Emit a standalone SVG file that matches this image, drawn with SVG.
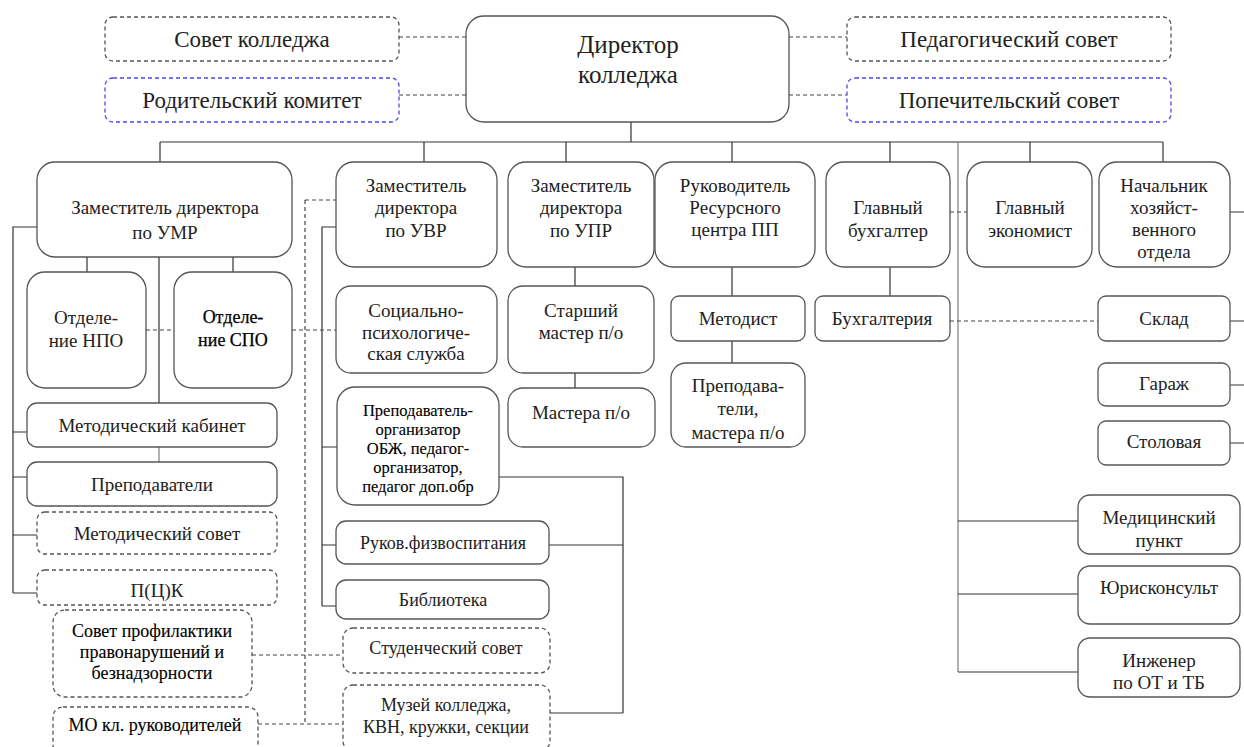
<svg xmlns="http://www.w3.org/2000/svg" width="1244" height="747" viewBox="0 0 1244 747">
<style>
text{font-family:"Liberation Serif","DejaVu Serif",serif;fill:#222;text-anchor:middle;font-size:19px}
.b{fill:#fff;stroke:#555;stroke-width:1.3}
.d{fill:#fff;stroke:#555;stroke-width:1.3;stroke-dasharray:4 3}
.bl{fill:#fff;stroke:#4a4af0;stroke-width:1.3;stroke-dasharray:4 3}
.l{fill:none;stroke:#333;stroke-width:1.2}
.g{fill:none;stroke:#888;stroke-width:1.3}
.dl{fill:none;stroke:#444;stroke-width:1.2;stroke-dasharray:4 3}
.top{font-size:23px}
.dir{font-size:25px}
.sm{font-size:16.5px;fill:#000;stroke:#000;stroke-width:0.12}
.sb{font-size:18px;fill:#000;stroke:#000;stroke-width:0.12}
.bd{font-size:18px;fill:#000;stroke:#000;stroke-width:0.25}
.m{font-size:18px}
</style>
<rect width="1244" height="747" fill="#fff"/>
<g id="connectors">
<path class="l" d="M631 122V142M160 142H1163M160 142V162M424 142V162M566 142V162M732 142V162M890 142V162M1030 142V162M1163 142V162"/>
<path class="g" d="M958 142V672"/>
<path class="l" d="M87 257V272M233 257V272M159 257V403"/>
<path class="g" d="M159 447V462"/>
<path class="l" d="M37 227H13V593M13 432H27M13 477H27M13 535H37M13 593H37"/>
<path class="l" d="M336 227H322V606M322 447H337M322 545H336M322 606H336"/>
<path class="l" d="M499 477H623V713M549 545H623M550 713H623"/>
<path class="l" d="M575 267V286M575 373V388M732 267V296M732 341V363M890 267V296"/>
<path class="l" d="M1230 212H1244M1230 321H1244M1230 385H1244M1230 443H1244"/>
<path class="l" d="M958 521H1078M958 594H1078M958 672H1078"/>
<path class="dl" d="M399 37H466M399 95H466M789 37H847M789 95H847"/>
<path class="dl" d="M146 330H174M292 330H336M305 200H336M305 200V724M950 212H967M950 321H1098M252 655H343M258 724H343"/>
</g>
<g id="n-sovet"><rect class="d" x="105" y="17" width="294" height="44" rx="8"/><text class="top" x="252" y="47">Совет колледжа</text></g>
<g id="n-rodkom"><rect class="bl" x="105" y="78" width="294" height="44" rx="8"/><text class="top" x="252" y="108">Родительский комитет</text></g>
<g id="n-director"><rect class="b" x="466" y="16" width="323" height="106" rx="18"/><text class="dir" x="628" y="53">Директор</text><text class="dir" x="628" y="83">колледжа</text></g>
<g id="n-pedsovet"><rect class="d" x="847" y="17" width="324" height="44" rx="8"/><text class="top" x="1009" y="47">Педагогический совет</text></g>
<g id="n-popech"><rect class="bl" x="847" y="78" width="324" height="44" rx="8"/><text class="top" x="1009" y="108">Попечительский совет</text></g>
<g id="n-umr"><rect class="b" x="37" y="162" width="255" height="95" rx="18"/><text x="165" y="214">Заместитель директора</text><text x="165" y="239">по УМР</text></g>
<g id="n-uvr"><rect class="b" x="336" y="162" width="161" height="105" rx="18"/><text x="416" y="192">Заместитель</text><text x="416" y="214">директора</text><text x="416" y="237">по УВР</text></g>
<g id="n-upr"><rect class="b" x="508" y="162" width="146" height="105" rx="18"/><text x="581" y="192">Заместитель</text><text x="581" y="214">директора</text><text x="581" y="237">по УПР</text></g>
<g id="n-rc"><rect class="b" x="655" y="162" width="160" height="105" rx="18"/><text x="735" y="192">Руководитель</text><text x="735" y="214">Ресурсного</text><text x="735" y="236">центра ПП</text></g>
<g id="n-buh"><rect class="b" x="826" y="162" width="124" height="105" rx="18"/><text x="888" y="214">Главный</text><text x="888" y="237">бухгалтер</text></g>
<g id="n-econ"><rect class="b" x="967" y="162" width="125" height="105" rx="18"/><text x="1030" y="214">Главный</text><text x="1030" y="237">экономист</text></g>
<g id="n-hoz"><rect class="b" x="1099" y="162" width="131" height="105" rx="18"/><text x="1164" y="192">Начальник</text><text x="1164" y="214">хозяйст-</text><text x="1164" y="236">венного</text><text x="1164" y="258">отдела</text></g>
<g id="n-npo"><rect class="b" x="27" y="272" width="119" height="116" rx="18"/><text x="86" y="324">Отделе-</text><text x="86" y="347">ние НПО</text></g>
<g id="n-spo"><rect class="b" x="174" y="272" width="118" height="116" rx="18"/><text class="bd" x="233" y="323">Отделе-</text><text class="bd" x="233" y="346">ние СПО</text></g>
<g id="n-socpsy"><rect class="b" x="336" y="286" width="161" height="87" rx="15"/><text x="416" y="317">Социально-</text><text x="416" y="339">психологиче-</text><text x="416" y="360">ская служба</text></g>
<g id="n-stmaster"><rect class="b" x="508" y="286" width="146" height="87" rx="15"/><text x="581" y="317">Старший</text><text x="581" y="339">мастер п/о</text></g>
<g id="n-metodist"><rect class="b" x="671" y="296" width="134" height="45" rx="8"/><text x="738" y="325">Методист</text></g>
<g id="n-buhgalteria"><rect class="b" x="815" y="296" width="135" height="45" rx="8"/><text x="882" y="325">Бухгалтерия</text></g>
<g id="n-sklad"><rect class="b" x="1098" y="296" width="132" height="45" rx="8"/><text x="1164" y="325">Склад</text></g>
<g id="n-garazh"><rect class="b" x="1098" y="363" width="132" height="43" rx="8"/><text x="1164" y="390">Гараж</text></g>
<g id="n-stolovaya"><rect class="b" x="1098" y="421" width="132" height="44" rx="8"/><text x="1164" y="448">Столовая</text></g>
<g id="n-prepmaster"><rect class="b" x="671" y="363" width="134" height="84" rx="15"/><text x="738" y="392">Преподава-</text><text x="738" y="415">тели,</text><text x="738" y="439">мастера п/о</text></g>
<g id="n-mastera"><rect class="b" x="508" y="388" width="147" height="59" rx="15"/><text x="581" y="419">Мастера п/о</text></g>
<g id="n-metkab"><rect class="b" x="27" y="403" width="250" height="44" rx="10"/><text x="152" y="432">Методический кабинет</text></g>
<g id="n-prepod"><rect class="b" x="27" y="462" width="250" height="44" rx="10"/><text x="152" y="491">Преподаватели</text></g>
<g id="n-metsovet"><rect class="d" x="37" y="512" width="240" height="42" rx="8"/><text x="157" y="540">Методический совет</text></g>
<g id="n-pck"><rect class="d" x="37" y="570" width="240" height="35" rx="8"/><text x="157" y="597">П(Ц)К</text></g>
<g id="n-preporg"><rect class="b" x="337" y="387" width="162" height="118" rx="18"/><text class="sm" x="418" y="416">Преподаватель-</text><text class="sm" x="418" y="435">организатор</text><text class="sm" x="418" y="454">ОБЖ, педагог-</text><text class="sm" x="418" y="473">организатор,</text><text class="sm" x="418" y="492">педагог доп.обр</text></g>
<g id="n-fizvos"><rect class="b" x="336" y="521" width="213" height="43" rx="10"/><text class="m" x="443" y="549">Руков.физвоспитания</text></g>
<g id="n-biblio"><rect class="b" x="336" y="580" width="213" height="39" rx="10"/><text class="m" x="443" y="606">Библиотека</text></g>
<g id="n-studsovet"><rect class="d" x="343" y="628" width="207" height="45" rx="10"/><text class="m" x="446" y="654">Студенческий совет</text></g>
<g id="n-muzey"><rect class="d" x="343" y="685" width="207" height="66" rx="10"/><text class="m" x="446" y="711">Музей колледжа,</text><text class="m" x="446" y="733">КВН, кружки, секции</text></g>
<g id="n-sovprof"><rect class="d" x="53" y="610" width="199" height="87" rx="12"/><text class="sb" x="152" y="637">Совет профилактики</text><text class="sb" x="152" y="658">правонарушений и</text><text class="sb" x="152" y="679">безнадзорности</text></g>
<g id="n-mo"><rect class="d" x="53" y="707" width="205" height="48" rx="10"/><text class="sb" x="155" y="731">МО кл. руководителей</text></g>
<g id="n-med"><rect class="b" x="1078" y="495" width="162" height="59" rx="12"/><text x="1159" y="524">Медицинский</text><text x="1159" y="547">пункт</text></g>
<g id="n-jur"><rect class="b" x="1078" y="566" width="162" height="58" rx="12"/><text x="1159" y="594">Юрисконсульт</text></g>
<g id="n-ing"><rect class="b" x="1078" y="638" width="162" height="59" rx="12"/><text x="1159" y="667">Инженер</text><text x="1159" y="689">по ОТ и ТБ</text></g>
</svg>
